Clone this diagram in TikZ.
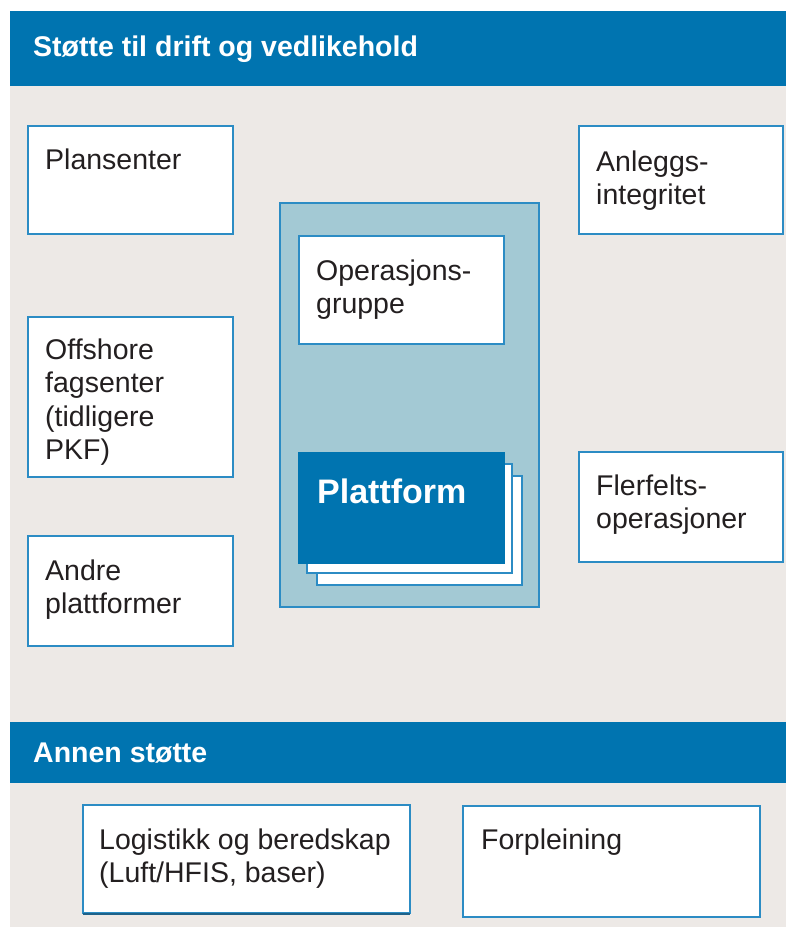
\documentclass[tikz,border=0pt]{standalone}
\usepackage{fontspec}
\setmainfont{Liberation Sans}
\definecolor{bggray}{HTML}{EDE9E6}
\definecolor{barblue}{HTML}{0074B0}
\definecolor{edgeblue}{HTML}{2C8CC4}
\definecolor{contfill}{HTML}{A3C9D4}
\definecolor{txtcol}{HTML}{231F20}
\tikzset{
  boxnode/.style={draw=edgeblue, line width=1.8pt, fill=white, rectangle, anchor=north west, inner sep=0pt, outer sep=0pt},
  txt/.style={font=\fontsize{28.5}{33.5}\selectfont, text=txtcol, align=left, inner sep=0pt, anchor=north west},
  bartxt/.style={font=\fontsize{28.5}{33.5}\selectfont\bfseries, text=white, inner sep=0pt, anchor=base west},
}
\begin{document}
\begin{tikzpicture}[x=1pt,y=-1pt]
\useasboundingbox (0,0) rectangle (786,927);
% background
\fill[white] (0,0) rectangle (786,927);
\fill[bggray] (10,11) rectangle (786,927);
% bars
\node[fill=barblue, anchor=north west, minimum width=776pt, minimum height=75pt, inner sep=0pt] (topbar) at (10,11) {};
\node[bartxt] (toptitle) at (33,56) {Støtte til drift og vedlikehold};
\node[fill=barblue, anchor=north west, minimum width=776pt, minimum height=61pt, inner sep=0pt] (botbar) at (10,722) {};
\node[bartxt] (bottitle) at (33,762) {Annen støtte};
% central container
\node[draw=edgeblue, line width=1.5pt, fill=contfill, anchor=north west, minimum width=259pt, minimum height=404pt, inner sep=0pt] (cont) at (279,202) {};
% left column
\node[boxnode, minimum width=205pt, minimum height=108pt] (plan) at (28,126) {};
\node[txt] (planT) at ([xshift=17pt,yshift=-19.5pt]plan.north west) {\strut Plansenter};
\node[boxnode, minimum width=205pt, minimum height=160pt] (off) at (28,317) {};
\node[txt] (offT) at ([xshift=17pt,yshift=-18.5pt]off.north west) {\strut Offshore\\fagsenter\\(tidligere\\PKF)};
\node[boxnode, minimum width=205pt, minimum height=110pt] (andre) at (28,536) {};
\node[txt] (andreT) at ([xshift=17pt,yshift=-20.5pt]andre.north west) {\strut Andre\\plattformer};
% right column
\node[boxnode, minimum width=204pt, minimum height=108pt] (anl) at (579,126) {};
\node[txt] (anlT) at ([xshift=17pt,yshift=-21.5pt]anl.north west) {\strut Anleggs-\\integritet};
\node[boxnode, minimum width=204pt, minimum height=110pt] (fler) at (579,452) {};
\node[txt] (flerT) at ([xshift=17pt,yshift=-19.5pt]fler.north west) {\strut Flerfelts-\\operasjoner};
% inside container
\node[boxnode, minimum width=205pt, minimum height=108pt] (ops) at (299,236) {};
\node[txt] (opsT) at ([xshift=17pt,yshift=-20.5pt]ops.north west) {\strut Operasjons-\\gruppe};
\node[boxnode, line width=1.6pt, minimum width=205pt, minimum height=109pt] (platC) at (317,476) {};
\node[boxnode, line width=1.6pt, minimum width=205pt, minimum height=109pt] (platB) at (307,464) {};
\node[boxnode, line width=1.6pt, fill=barblue, draw=barblue, minimum width=205pt, minimum height=110pt] (platA) at (299,453) {};
\node[font=\fontsize{34}{39}\selectfont\bfseries, text=white, inner sep=0pt, anchor=base west] (platT) at ([xshift=18pt,yshift=-50pt]platA.north west) {Plattform};
% bottom row
\node[boxnode, minimum width=327pt, minimum height=108pt] (log) at (83,805) {};
\draw[edgeblue!70!black, line width=1.4pt] ([yshift=-1pt]log.south west) -- ([yshift=-1pt]log.south east);
\node[txt] (logT) at ([xshift=16pt,yshift=-20.5pt]log.north west) {\strut Logistikk og beredskap\\(Luft/HFIS, baser)};
\node[boxnode, minimum width=297pt, minimum height=111pt] (forp) at (463,806) {};
\node[txt] (forpT) at ([xshift=18pt,yshift=-19.5pt]forp.north west) {\strut Forpleining};
\end{tikzpicture}
\end{document}
